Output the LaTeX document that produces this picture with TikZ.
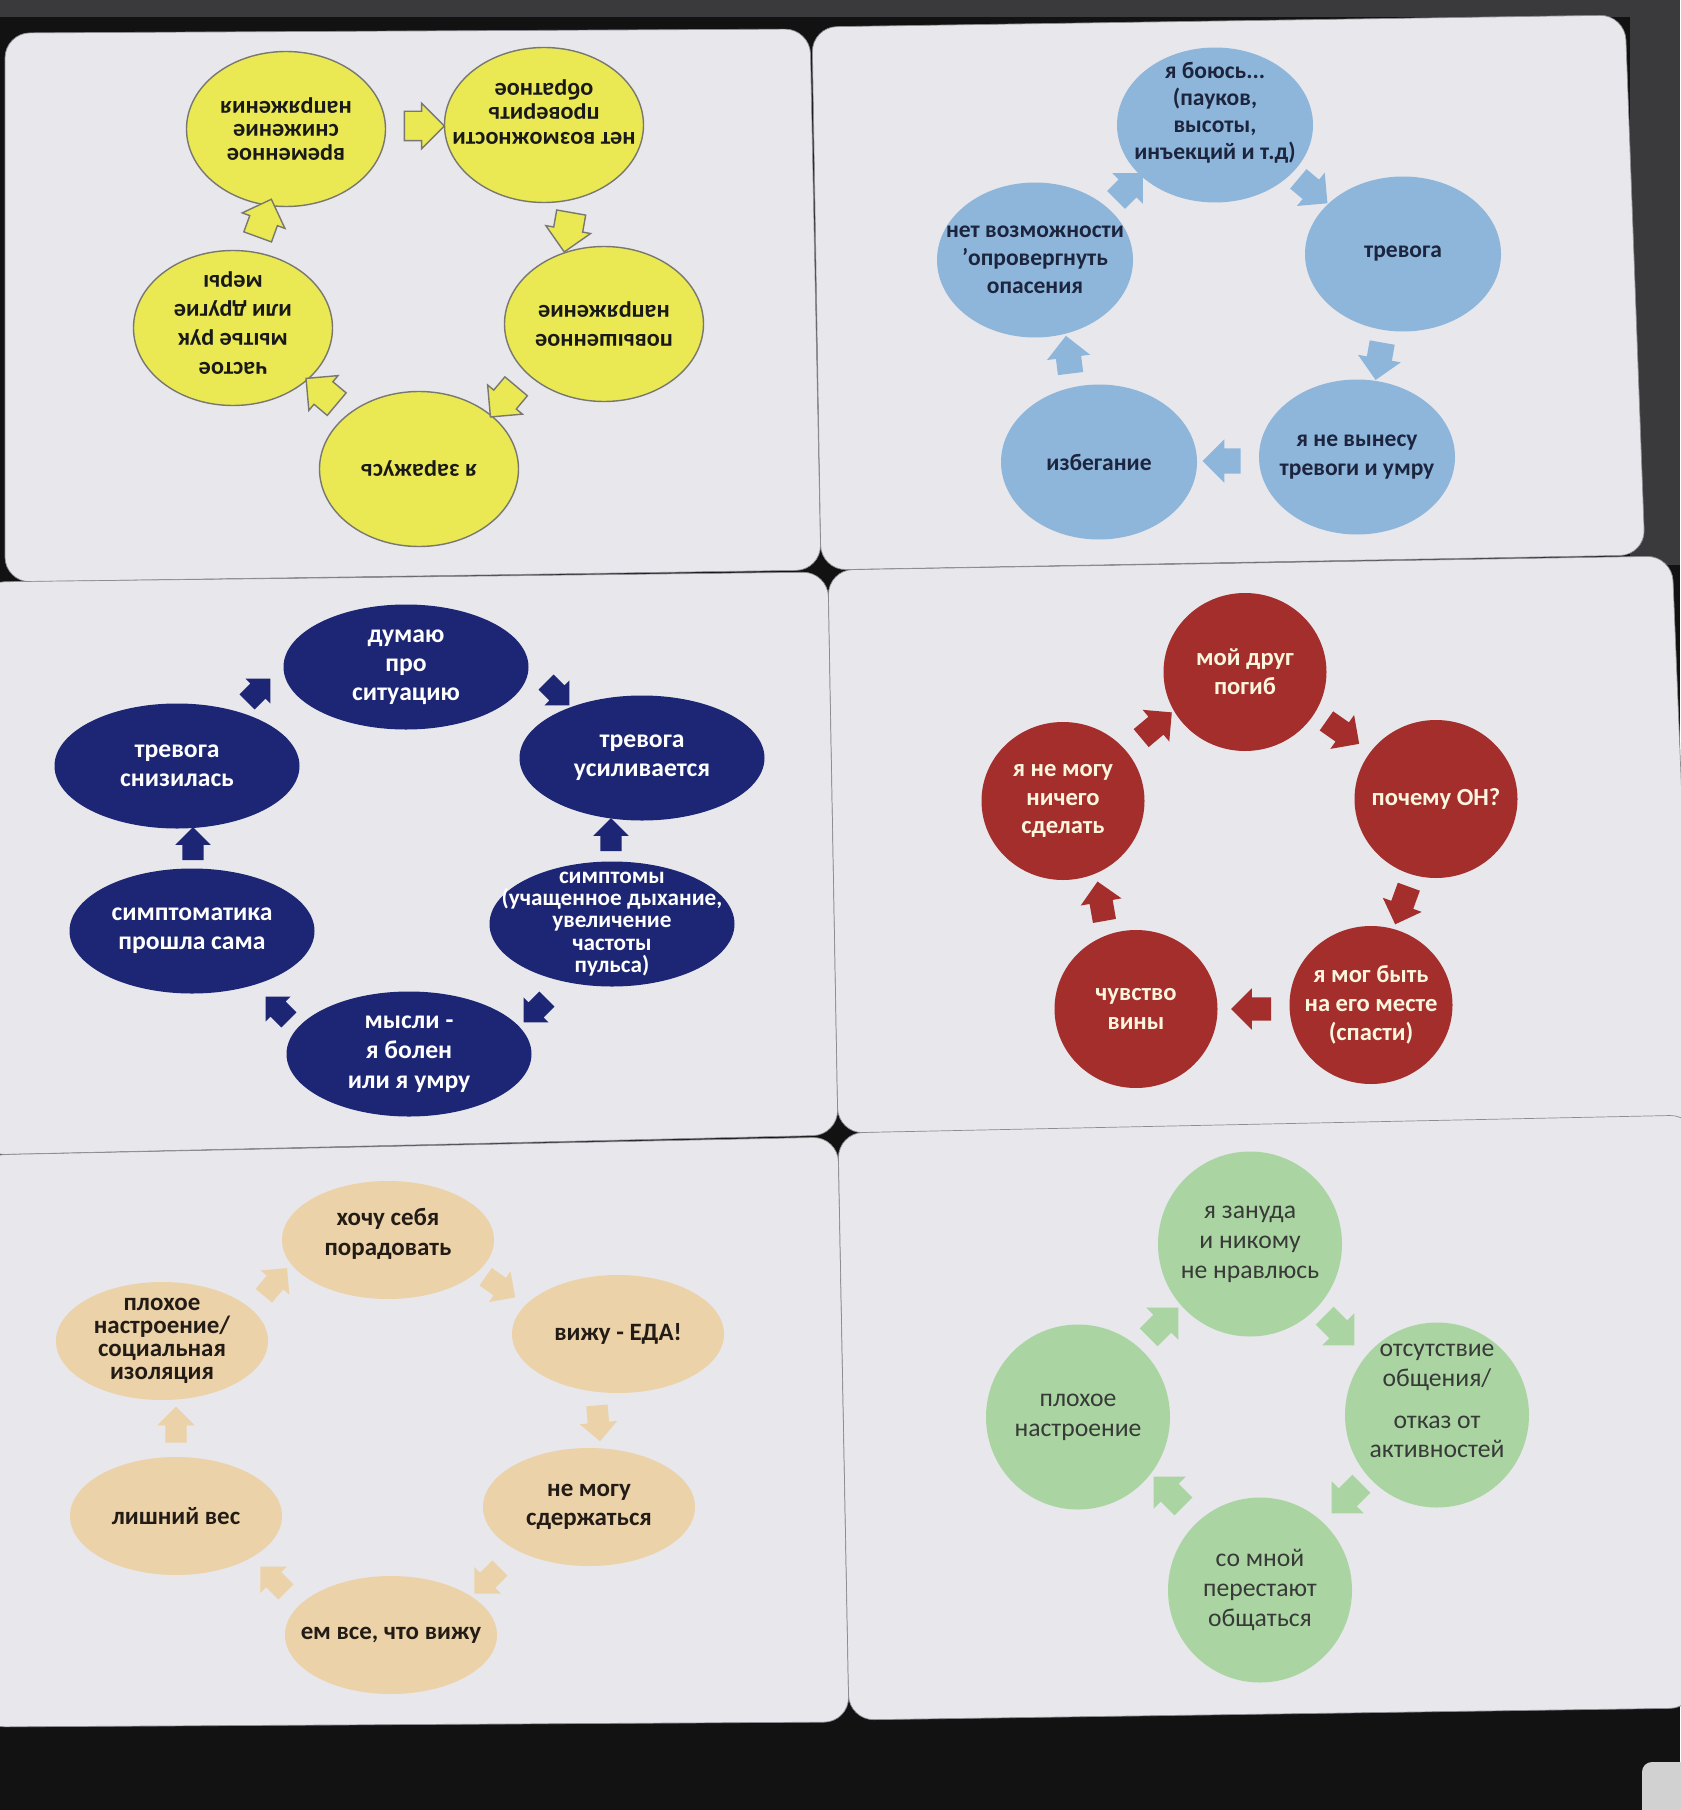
\documentclass[tikz,border=0pt]{standalone}
\usepackage{fontspec}
\setmainfont{Carlito}
\usetikzlibrary{shapes.geometric}
\usetikzlibrary{shapes.arrows}
\usetikzlibrary{positioning}

\definecolor{darkbg}{RGB}{18,18,18}
\definecolor{topbg}{RGB}{58,58,60}
\definecolor{cardbg}{RGB}{231,231,236}
\definecolor{seam}{RGB}{140,140,146}
\definecolor{yelfill}{RGB}{234,233,84}
\definecolor{yelline}{RGB}{120,120,112}
\definecolor{skyfill}{RGB}{142,182,218}
\definecolor{skytext}{RGB}{28,36,62}
\definecolor{navyfill}{RGB}{28,38,116}
\definecolor{redfill}{RGB}{164,46,43}
\definecolor{redtext}{RGB}{252,246,222}
\definecolor{peachfill}{RGB}{236,210,168}
\definecolor{peachtext}{RGB}{35,28,22}
\definecolor{greenfill}{RGB}{170,213,162}
\definecolor{greentext}{RGB}{55,58,55}

\tikzset{
  card/.style={fill=cardbg,draw=seam,very thin,rounded corners=0.25cm},
  bubble/.style={ellipse,inner sep=0pt},
  blockarrow/.style={single arrow,inner xsep=0pt,draw=none},
  ybub/.style={bubble,fill=yelfill,draw=yelline,thin,minimum width=1.99cm,minimum height=1.55cm},
  ytxt/.style={align=center,rotate=180,text=black!90,font=\fontsize{6.9}{7.4}\selectfont\bfseries},
  yarr/.style={blockarrow,fill=yelfill,draw=yelline,thin,minimum height=0.40cm,inner ysep=0.14cm,single arrow head extend=0.08cm},
  sbub/.style={bubble,fill=skyfill,minimum width=1.96cm,minimum height=1.55cm},
  stxt/.style={align=center,text=skytext,font=\fontsize{6.7}{7.9}\selectfont\bfseries},
  sarr/.style={blockarrow,fill=skyfill,minimum height=0.38cm,inner ysep=0.12cm,single arrow head extend=0.09cm},
  nbub/.style={bubble,fill=navyfill,minimum width=2.45cm,minimum height=1.25cm},
  ntxt/.style={align=center,text=white,font=\fontsize{7.3}{8.3}\selectfont\bfseries},
  narr/.style={blockarrow,fill=navyfill,minimum height=0.33cm,inner ysep=0.10cm,single arrow head extend=0.07cm},
  rbub/.style={bubble,fill=redfill,minimum width=1.63cm,minimum height=1.58cm},
  rtxt/.style={align=center,text=redtext,font=\fontsize{7.0}{8.2}\selectfont\bfseries},
  rarr/.style={blockarrow,fill=redfill,minimum height=0.40cm,inner ysep=0.11cm,single arrow head extend=0.09cm},
  pbub/.style={bubble,fill=peachfill,minimum width=2.12cm,minimum height=1.18cm},
  ptxt/.style={align=center,text=peachtext,font=\fontsize{7.1}{8.4}\selectfont\bfseries},
  parr/.style={blockarrow,fill=peachfill,minimum height=0.36cm,inner ysep=0.10cm,single arrow head extend=0.08cm},
  gbub/.style={bubble,fill=greenfill,minimum width=1.84cm,minimum height=1.85cm},
  gtxt/.style={align=center,text=greentext,font=\fontsize{7.3}{8.5}\selectfont},
  garr/.style={blockarrow,fill=greenfill,minimum height=0.42cm,inner ysep=0.12cm,single arrow head extend=0.10cm},
}

\begin{document}
\begin{tikzpicture}[x=1cm,y=-1cm]
\useasboundingbox (0,0) rectangle (16.8,18.1);
\fill[darkbg] (0,0) rectangle (16.8,18.1);
\fill[topbg] (0,0) rectangle (16.8,0.17);
\fill[topbg] (16.3,0.17) rectangle (16.8,5.65);
\fill[black!18,rounded corners=0.1cm] (16.42,17.62) rectangle (16.95,18.25);

\draw[card] (0.05,0.33) -- (8.10,0.29) -- (8.21,5.70) -- (0.05,5.82) -- cycle;
\draw[card] (8.12,0.27) -- (16.25,0.15) -- (16.45,5.55) -- (8.21,5.70) -- cycle;
\draw[card] (-0.2,5.82) -- (8.28,5.72) -- (8.38,11.35) -- (-0.2,11.55) -- cycle;
\draw[card] (8.28,5.70) -- (16.72,5.56) -- (16.95,11.20) -- (8.38,11.33) -- cycle;
\draw[card] (-0.2,11.55) -- (8.38,11.37) -- (8.49,17.22) -- (-0.2,17.27) -- cycle;
\draw[card] (8.38,11.33) -- (16.95,11.15) -- (16.95,17.08) -- (8.49,17.20) -- cycle;

\node[ybub] (y1) at (2.86,1.29) {};
\node[ybub] (y2) at (5.44,1.25) {};
\node[ybub] (y3) at (6.04,3.24) {};
\node[ybub] (y4) at (4.19,4.69) {};
\node[ybub] (y5) at (2.33,3.28) {};
\node[ytxt,font=\fontsize{6.9}{6.8}\selectfont\bfseries] (y1t) at (y1) {временное\\снижение\\напряжения};
\node[ytxt,font=\fontsize{6.9}{6.9}\selectfont\bfseries] (y2t) at ([yshift=0.13cm]y2) {нет возможности\\проверить\\обратное};
\node[ytxt,font=\fontsize{6.9}{8.3}\selectfont\bfseries] (y3t) at (y3) {повышенное\\напряжение};
\node[ytxt] (y4t) at (y4) {я заражусь};
\node[ytxt,font=\fontsize{6.9}{8.3}\selectfont\bfseries] (y5t) at ([yshift=0.05cm]y5) {частое\\мытье рук\\или другие\\меры};
\node[yarr,rotate=0] (y12) at (4.17,1.26) {};
\node[yarr,rotate=-100] (y23) at (5.69,2.25) {};
\node[yarr,rotate=-130] (y34) at (5.08,3.96) {};
\node[yarr,rotate=140] (y45) at (3.27,3.96) {};
\node[yarr,rotate=70] (y51) at (2.62,2.25) {};

\node[sbub] (s1) at (12.15,1.25) {};
\node[sbub] (s2) at (14.03,2.54) {};
\node[sbub] (s3) at (13.57,4.57) {};
\node[sbub] (s4) at (10.99,4.62) {};
\node[sbub] (s5) at (10.35,2.60) {};
\node[stxt,font=\fontsize{6.7}{7.7}\selectfont\bfseries] (s1t) at ([yshift=0.12cm]s1) {я боюсь...\\(пауков,\\высоты,\\инъекций и т.д)};
\node[stxt] (s2t) at (s2) {тревога};
\node[stxt,font=\fontsize{6.7}{8.2}\selectfont\bfseries] (s3t) at (s3) {я не вынесу\\тревоги и умру};
\node[stxt] (s4t) at (s4) {избегание};
\node[stxt] (s5t) at (s5) {нет возможности\\'опровергнуть\\опасения};
\node[sarr,rotate=-40] (s12) at (13.08,1.87) {};
\node[sarr,rotate=-100] (s23) at (13.80,3.55) {};
\node[sarr,rotate=180] (s34) at (12.28,4.61) {};
\node[sarr,rotate=97] (s45) at (10.69,3.61) {};
\node[sarr,rotate=45] (s51) at (11.25,1.91) {};

\node[nbub] (n1) at (4.06,6.67) {};
\node[nbub] (n2) at (6.42,7.58) {};
\node[nbub] (n3) at (6.12,9.24) {};
\node[nbub] (n4) at (4.09,10.54) {};
\node[nbub] (n5) at (1.92,9.31) {};
\node[nbub] (n6) at (1.77,7.66) {};
\node[ntxt] (n1t) at (n1) {думаю\\про\\ситуацию};
\node[ntxt] (n2t) at (n2) {тревога\\усиливается};
\node[ntxt,font=\fontsize{6.6}{6.3}\selectfont\bfseries] (n3t) at (n3) {симптомы\\(учащенное дыхание,\\увеличение\\частоты\\пульса)};
\node[ntxt,font=\fontsize{7.3}{8.6}\selectfont\bfseries] (n4t) at (n4) {мысли -\\я болен\\или я умру};
\node[ntxt] (n5t) at (n5) {симптоматика\\прошла сама};
\node[ntxt] (n6t) at (n6) {тревога\\снизилась};
\node[narr,rotate=-45] (n12) at (5.54,6.90) {};
\node[narr,rotate=90] (n32) at (6.11,8.40) {};
\node[narr,rotate=-135] (n34) at (5.39,10.07) {};
\node[narr,rotate=135] (n45) at (2.81,10.12) {};
\node[narr,rotate=90] (n56) at (1.93,8.49) {};
\node[narr,rotate=45] (n61) at (2.55,6.94) {};

\node[rbub] (r1) at (12.45,6.72) {};
\node[rbub] (r2) at (14.36,7.99) {};
\node[rbub] (r3) at (13.71,10.05) {};
\node[rbub] (r4) at (11.36,10.09) {};
\node[rbub] (r5) at (10.63,8.01) {};
\node[rtxt] (r1t) at (r1) {мой друг\\погиб};
\node[rtxt] (r2t) at (r2) {почему ОН?};
\node[rtxt] (r3t) at (r3) {я мог быть\\на его месте\\(спасти)};
\node[rtxt] (r4t) at (r4) {чувство\\вины};
\node[rtxt] (r5t) at (r5) {я не могу\\ничего\\сделать};
\node[rarr,rotate=-35] (r12) at (13.38,7.29) {};
\node[rarr,rotate=-110] (r23) at (14.04,9.00) {};
\node[rarr,rotate=180] (r34) at (12.57,10.09) {};
\node[rarr,rotate=100] (r45) at (11.02,9.07) {};
\node[rarr,rotate=40] (r51) at (11.52,7.29) {};

\node[pbub] (p1) at (3.88,12.40) {};
\node[pbub] (p2) at (6.18,13.34) {};
\node[pbub] (p3) at (5.89,15.07) {};
\node[pbub] (p4) at (3.91,16.35) {};
\node[pbub] (p5) at (1.76,15.16) {};
\node[pbub] (p6) at (1.62,13.41) {};
\node[ptxt] (p1t) at ([yshift=0.06cm]p1) {хочу себя\\порадовать};
\node[ptxt] (p2t) at (p2) {вижу - ЕДА!};
\node[ptxt] (p3t) at (p3) {не могу\\сдержаться};
\node[ptxt] (p4t) at (p4) {ем все, что вижу};
\node[ptxt] (p5t) at (p5) {лишний вес};
\node[ptxt,font=\fontsize{7.1}{6.6}\selectfont\bfseries] (p6t) at (p6) {плохое\\настроение/\\социальная\\изоляция};
\node[parr,rotate=-35] (p12) at (4.96,12.84) {};
\node[parr,rotate=-85] (p23) at (5.98,14.18) {};
\node[parr,rotate=-135] (p34) at (4.91,15.77) {};
\node[parr,rotate=135] (p45) at (2.77,15.83) {};
\node[parr,rotate=90] (p56) at (1.76,14.30) {};
\node[parr,rotate=50] (p61) at (2.72,12.86) {};

\node[gbub] (g1) at (12.50,12.44) {};
\node[gbub] (g2) at (14.37,14.15) {};
\node[gbub] (g3) at (12.60,15.90) {};
\node[gbub] (g4) at (10.78,14.17) {};
\node[gtxt] (g1t) at (g1) {я зануда\\и никому\\не нравлюсь};
\node[gtxt] (g2t) at ([yshift=0.14cm]g2) {отсутствие\\общения/\\[0.12cm]отказ от\\активностей};
\node[gtxt] (g3t) at (g3) {со мной\\перестают\\общаться};
\node[gtxt] (g4t) at (g4) {плохое\\настроение};
\node[garr,rotate=-45] (g12) at (13.35,13.26) {};
\node[garr,rotate=-135] (g23) at (13.51,14.94) {};
\node[garr,rotate=135] (g34) at (11.73,14.96) {};
\node[garr,rotate=45] (g41) at (11.59,13.27) {};

\end{tikzpicture}
\end{document}
